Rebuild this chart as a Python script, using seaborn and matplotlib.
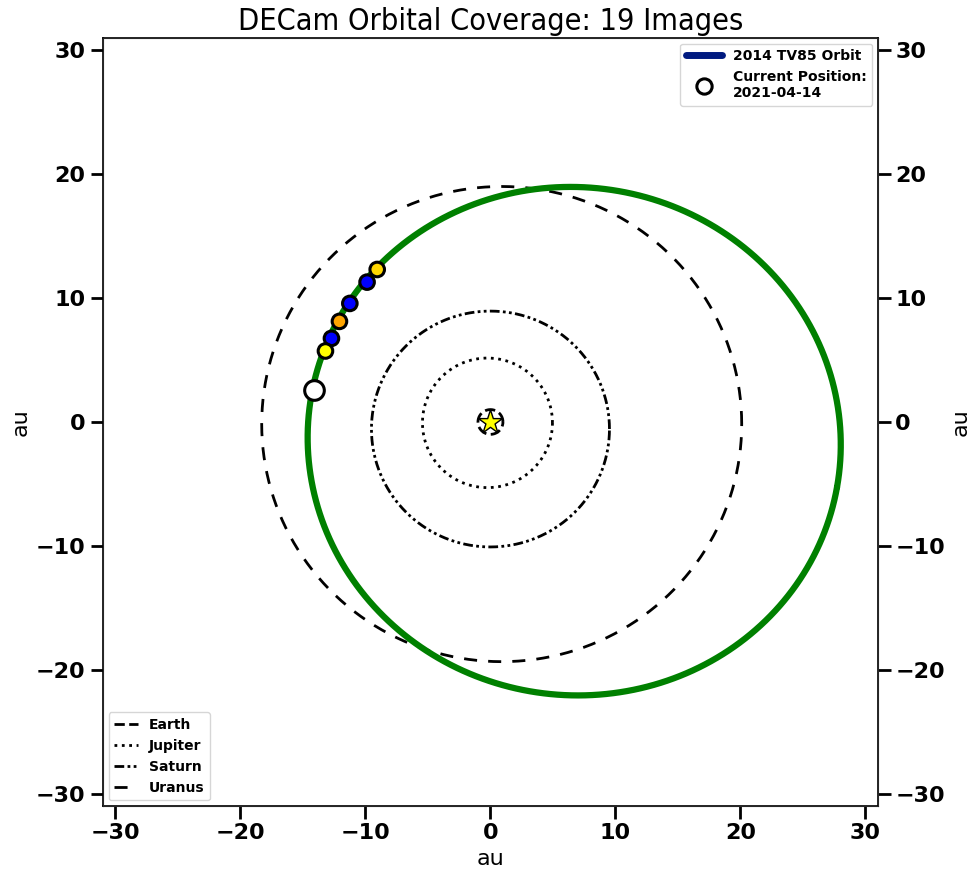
import numpy as np
import pandas as pd
import matplotlib
matplotlib.use("Agg")
import matplotlib.pyplot as plt
from matplotlib.lines import Line2D
import seaborn as sns

# Orbit ellipses in the ecliptic plane: centre x, centre y, semi-axis a, semi-axis b, tilt (deg)
planet_names = ["Earth", "Jupiter", "Saturn", "Uranus"]
planet_cx = [0.0, -0.24, 0.0, 0.9]
planet_cy = [0.0, -0.07, -0.57, -0.17]
planet_a = [1.0, 5.2, 9.52, 19.2]
planet_b = [1.0, 5.23, 9.52, 19.18]
planet_styles = [(0, (3.7, 1.6)), (0, (1, 1.65)), (0, (3.5, 1.2, 1, 1.2, 1, 1.2)), (0, (4.7, 4.0))]

tno_name = "2014 TV85"
tno_cx, tno_cy = 6.7, -1.55
tno_a, tno_b, tno_tilt = 21.35, 20.5, -10.0

# DECam detections along the orbit
obs_x = [-9.06, -9.87, -11.25, -12.08, -12.72, -13.2]
obs_y = [12.31, 11.29, 9.57, 8.12, 6.75, 5.73]
obs_color = ["gold", "blue", "blue", "orange", "blue", "yellow"]

current_date = "2021-04-14"
current_x, current_y = -14.08, 2.58

n_images = 19


def ellipse(cx, cy, a, b, tilt_deg=0.0, n=721):
    t = np.linspace(0, 2 * np.pi, n)
    p = np.deg2rad(tilt_deg)
    x = cx + a * np.cos(t) * np.cos(p) - b * np.sin(t) * np.sin(p)
    y = cy + a * np.cos(t) * np.sin(p) + b * np.sin(t) * np.cos(p)
    return x, y


sns.set_style("white")
plt.rcParams["font.family"] = ["DejaVu Sans"]
plt.rcParams.update({"text.color": "black", "axes.labelcolor": "black",
                     "xtick.color": "black", "ytick.color": "black"})

fig = plt.figure(figsize=(9.74, 8.75), dpi=100)
ax = fig.add_axes([0.1057, 0.0789, 0.7957, 0.8777])

# planetary orbits
for name, cx, cy, a, b, ls in zip(planet_names, planet_cx, planet_cy,
                                   planet_a, planet_b, planet_styles):
    x, y = ellipse(cx, cy, a, b)
    sns.lineplot(x=x, y=y, sort=False, estimator=None, color="black",
                 lw=2, ax=ax, legend=False, linestyle=ls)

# object orbit
x, y = ellipse(tno_cx, tno_cy, tno_a, tno_b, tno_tilt)
sns.lineplot(x=x, y=y, sort=False, estimator=None, color="green",
             lw=4.5, ax=ax, legend=False, zorder=3)

# Sun
sns.scatterplot(x=[0], y=[0], marker="*", s=330, color="yellow",
                edgecolor="black", linewidth=1, ax=ax, zorder=5, legend=False)

obs = pd.DataFrame({"x": obs_x, "y": obs_y, "c": obs_color})
sns.scatterplot(data=obs, x="x", y="y", hue="c", palette={c: c for c in obs_color},
                s=110, edgecolor="black", linewidth=2.2, ax=ax, zorder=6, legend=False)

sns.scatterplot(x=[current_x], y=[current_y], s=200, color="white",
                edgecolor="black", linewidth=2.2, ax=ax, zorder=6, legend=False)

ax.set_xlim(-31, 31)
ax.set_ylim(-31, 31)
ticks = [-30, -20, -10, 0, 10, 20, 30]
ax.set_xticks(ticks)
ax.set_yticks(ticks)
ax.tick_params(axis="both", direction="out", length=9, width=2, labelsize=16,
               bottom=True, left=True, top=False, right=False)
for lab in ax.get_xticklabels() + ax.get_yticklabels():
    lab.set_fontweight("bold")
ax.set_xlabel("au", fontsize=16)
ax.set_ylabel("au", fontsize=16)
for s in ax.spines.values():
    s.set_color("black")
    s.set_linewidth(1.2)

ax2 = ax.twinx()
ax2.set_ylim(-31, 31)
ax2.set_yticks(ticks)
ax2.tick_params(axis="y", direction="out", length=9, width=2, labelsize=16, right=True)
for lab in ax2.get_yticklabels():
    lab.set_fontweight("bold")
ax2.set_ylabel("au", fontsize=16)
ax2.grid(False)

ax.set_title(f"DECam Orbital Coverage: {n_images} Images", fontsize=22,
             fontstretch="condensed", color="black")

# legends
h_top = [Line2D([], [], color="#001a80", lw=5),
         Line2D([], [], marker="o", ls="none", markersize=11, markerfacecolor="white",
                markeredgecolor="black", markeredgewidth=2.2)]
ax2.legend(h_top, [f"{tno_name} Orbit", f"Current Position:\n{current_date}"],
           loc="upper right", prop={"weight": "bold", "size": 10},
           handlelength=2.6, borderaxespad=0.4)
h_pl = [Line2D([], [], color="black", lw=2, linestyle=ls) for ls in planet_styles]
ax.legend(h_pl, planet_names, loc="lower left", prop={"weight": "bold", "size": 10},
          handlelength=1.7, borderaxespad=0.4)

fig.savefig("out.png", dpi=100)
